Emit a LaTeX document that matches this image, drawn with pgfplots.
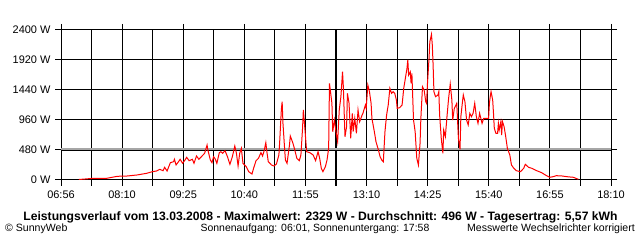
\documentclass[border=0pt]{standalone}
\usepackage{fontspec}
\setmainfont{Liberation Sans}
\usepackage{pgfplots}
\pgfplotsset{compat=1.18}
\begin{document}
\begin{tikzpicture}
\useasboundingbox[fill=white] (0,0) rectangle (640bp,240bp);
\begin{axis}[
  at={(61bp,60bp)}, anchor=south west,
  scale only axis, width=550bp, height=150bp,
  xmin=416, xmax=1090, ymin=0, ymax=2400,
  clip=false,
  xtick={416,490.889,565.778,640.667,715.556,790.444,865.333,940.222,1015.111,1090},
  xticklabels={06:56,08:10,09:25,10:40,11:55,13:10,14:25,15:40,16:55,18:10},
  ytick={0,480,960,1440,1920,2400},
  yticklabels={0 W,480 W,960 W,1440 W,1920 W,2400 W},
  grid=major,
  major grid style={black, line width=1bp},
  axis line style={black, line width=1bp},
  tick align=outside,
  major tick length=6bp,
  tick style={black, line width=1bp},
  ticklabel style={font=\fontsize{11}{13}\selectfont},
  xticklabel style={yshift=-1bp},
  yticklabel style={xshift=-1bp},
]
\pgfplotsinvokeforeach{453.444,528.333,603.222,678.111,753,827.889,902.778,977.667,1052.556}{
  \draw[black, line width=1.1bp] (axis cs:#1,0) ++(0bp,-6bp) -- (axis cs:#1,2400);
}
\addplot[gray!70, line width=1.8bp, forget plot] coordinates {(416,496)(1090,496)};
\addplot[black, line width=0.8bp, forget plot] coordinates {(416,480)(1090,480)};
\addplot[red, line width=1bp, mark=none] coordinates {
(438,8)(453,24)(472,27)(485,59)(497,64)(509,80)(521,107)(528,133)(533,144)(537,171)(541,149)(543,203)(546,144)(550,277)(554,293)(555,331)(557,240)(560,293)(562,331)(565,267)(568,320)(570,363)(573,309)(577,331)(579,267)(582,384)(585,331)(590,400)(592,427)(595,560)(596,480)(599,320)(601,277)(603,373)(605,336)(607,267)(610,437)(612,453)(614,427)(617,469)(620,373)(623,251)(626,373)(629,544)(631,427)(633,224)(635,427)(637,507)(639,267)(643,213)(646,133)(650,96)(652,187)(655,309)(658,347)(661,437)(663,384)(665,469)(667,597)(668,480)(670,293)(674,240)(677,224)(680,256)(683,400)(684,613)(686,1120)(687,1253)(688,907)(690,507)(691,320)(693,267)(696,560)(697,704)(700,597)(702,507)(705,347)(708,309)(710,400)(712,827)(713,1120)(715,800)(717,453)(721,437)(725,400)(728,309)(731,453)(733,347)(735,187)(737,133)(740,213)(742,320)(744,507)(745,1547)(746,1440)(748,1227)(749,773)(751,960)(753,773)(755,613)(757,1120)(759,1333)(761,1733)(762,1493)(764,693)(766,853)(767,1387)(769,1227)(771,667)(773,1067)(774,773)(776,987)(778,747)(780,1120)(782,933)(785,1040)(786,1067)(789,1200)(790,1147)(792,1520)(794,1413)(796,1227)(797,987)(800,773)(802,613)(805,480)(807,373)(809,320)(811,293)(813,773)(815,1040)(817,1200)(819,1467)(821,1387)(823,1413)(825,1387)(827,1280)(828,1147)(831,1157)(834,1200)(836,1467)(838,1627)(840,1787)(841,1920)(842,1680)(844,1733)(845,1547)(846,1707)(848,960)(850,773)(852,347)(854,240)(856,587)(857,987)(859,1493)(861,1440)(863,1253)(864,1227)(865,1520)(867,1947)(868,2213)(870,2329)(871,2160)(872,1840)(873,1413)(875,1333)(878,1360)(879,1413)(880,1040)(882,667)(884,427)(885,800)(887,693)(889,1013)(891,1307)(893,1536)(895,1280)(896,960)(898,1147)(901,1227)(903,667)(905,491)(906,1013)(908,1253)(909,1360)(911,1253)(913,960)(915,880)(917,1067)(919,1013)(921,1067)(923,1227)(925,1013)(927,907)(929,1067)(932,907)(934,987)(940,987)(941,1227)(942,1333)(943,1413)(945,1280)(946,1067)(947,827)(949,747)(951,747)(952,907)(953,800)(955,933)(956,720)(957,933)(959,853)(961,693)(963,507)(966,400)(968,240)(971,187)(974,149)(979,133)(983,187)(985,251)(989,203)(993,187)(999,149)(1005,117)(1011,69)(1015,43)(1019,53)(1023,69)(1030,64)(1036,53)(1044,43)(1050,11)
};
\end{axis}
\node[font=\bfseries\fontsize{12.2}{14}\selectfont, inner sep=0pt] at (320.5bp,23bp) {Leistungsverlauf vom 13.03.2008 - Maximalwert: 2329 W - Durchschnitt: 496 W - Tagesertrag: 5,57 kWh};
\node[font=\fontsize{10.6}{13}\selectfont, inner sep=0pt, anchor=west] at (5bp,11bp) {© SunnyWeb};
\node[font=\fontsize{10.5}{13}\selectfont, inner sep=0pt] at (315bp,11bp) {Sonnenaufgang: 06:01, Sonnenuntergang: 17:58};
\node[font=\fontsize{10.6}{13}\selectfont, inner sep=0pt, anchor=east] at (635bp,11bp) {Messwerte Wechselrichter korrigiert};
\end{tikzpicture}
\end{document}
